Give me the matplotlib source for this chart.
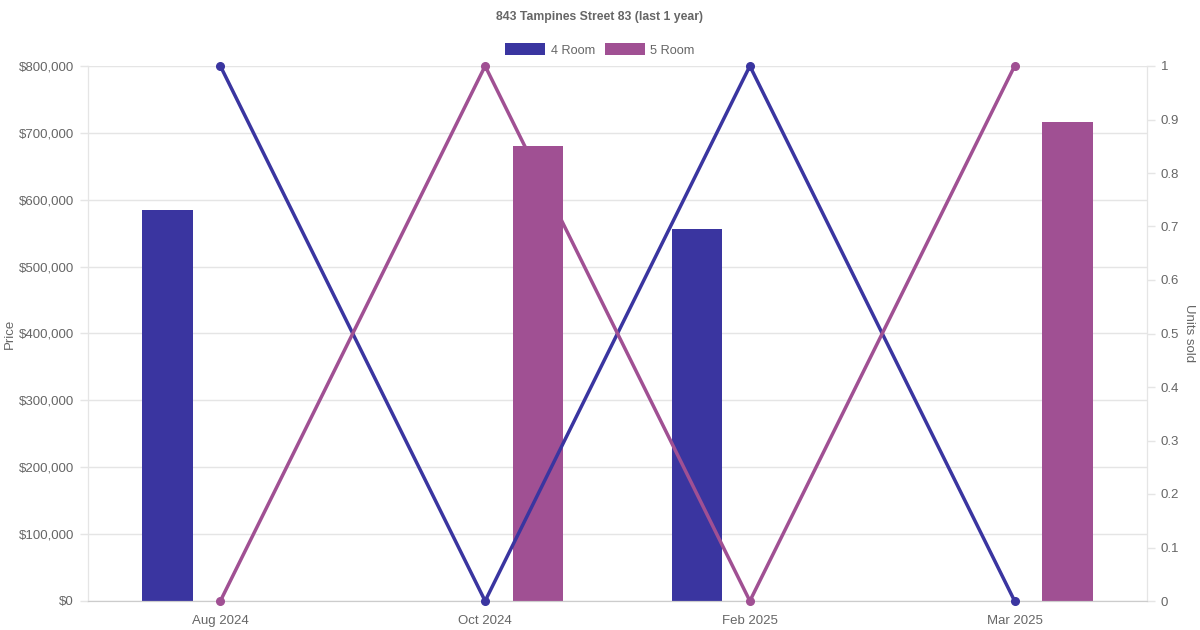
import numpy as np
import matplotlib
matplotlib.use('Agg')
import matplotlib.pyplot as plt
from matplotlib.patches import Patch

# data
months = ['Aug 2024', 'Oct 2024', 'Feb 2025', 'Mar 2025']
price_4room = [585000, np.nan, 557000, np.nan]
price_5room = [np.nan, 680000, np.nan, 716000]
units_4room = [1, 0, 1, 0]
units_5room = [0, 1, 0, 1]

c4 = '#3a35a0'
c5 = '#a05093'
txt = '#666666'
grid = '#e5e5e5'

plt.rcParams['font.family'] = ['Liberation Sans', 'DejaVu Sans']

fig = plt.figure(figsize=(12, 6.3), dpi=100)
ax = fig.add_axes([88/1200, 29/630, 1059/1200, 535/630])
ax2 = ax.twinx()

x = np.arange(len(months))
ax.bar(x - 0.2, price_4room, width=0.19, color=c4, zorder=2)
ax.bar(x + 0.2, price_5room, width=0.19, color=c5, zorder=2)

ax2.plot(x, units_4room, color=c4, lw=2.5, marker='o', ms=5.5, zorder=3, clip_on=False)
ax2.plot(x, units_5room, color=c5, lw=2.5, marker='o', ms=5.5, zorder=3, clip_on=False)

ax.set_xlim(-0.5, 3.5)
ax.set_ylim(0, 800000)
ax2.set_ylim(0, 1)

ax.set_xticks(x)
ax.set_xticklabels(months)
ax.set_yticks(np.arange(0, 800001, 100000))
ax.set_yticklabels(['${:,.0f}'.format(v) for v in np.arange(0, 800001, 100000)])
ax2.set_yticks(np.arange(0, 1.01, 0.1))
ax2.set_yticklabels(['0', '0.1', '0.2', '0.3', '0.4', '0.5', '0.6', '0.7', '0.8', '0.9', '1'])

ax.grid(axis='y', color=grid, lw=1, zorder=0)
ax.set_axisbelow(True)
for a in (ax, ax2):
    a.spines['top'].set_visible(False)
    a.spines['left'].set_color(grid)
    a.spines['right'].set_color(grid)
    a.spines['bottom'].set_color('#cccccc')
    a.tick_params(colors=txt, labelsize=9.5, length=6, color=grid, width=1)
ax.tick_params(axis='x', length=0, pad=10)
ax.tick_params(axis='y', pad=4)
ax2.tick_params(axis='y', pad=4)

ax.set_ylabel('Price', color=txt, fontsize=9.5, labelpad=2)
ax2.set_ylabel('Units sold', color=txt, fontsize=9.5, rotation=270, labelpad=11)

fig.text(0.5, 1 - 17/630, '843 Tampines Street 83 (last 1 year)', ha='center', va='center',
         fontsize=8.8, fontweight='bold', color=txt)

handles = [Patch(facecolor=c4, label='4 Room'), Patch(facecolor=c5, label='5 Room')]
fig.legend(handles=handles, loc='center', bbox_to_anchor=(0.5, 1 - 50/630), ncol=2,
           frameon=False, fontsize=9.2, labelcolor=txt, handlelength=3.1, handleheight=1.0,
           handletextpad=0.45, columnspacing=0.8)

plt.savefig('out.png', dpi=100)
